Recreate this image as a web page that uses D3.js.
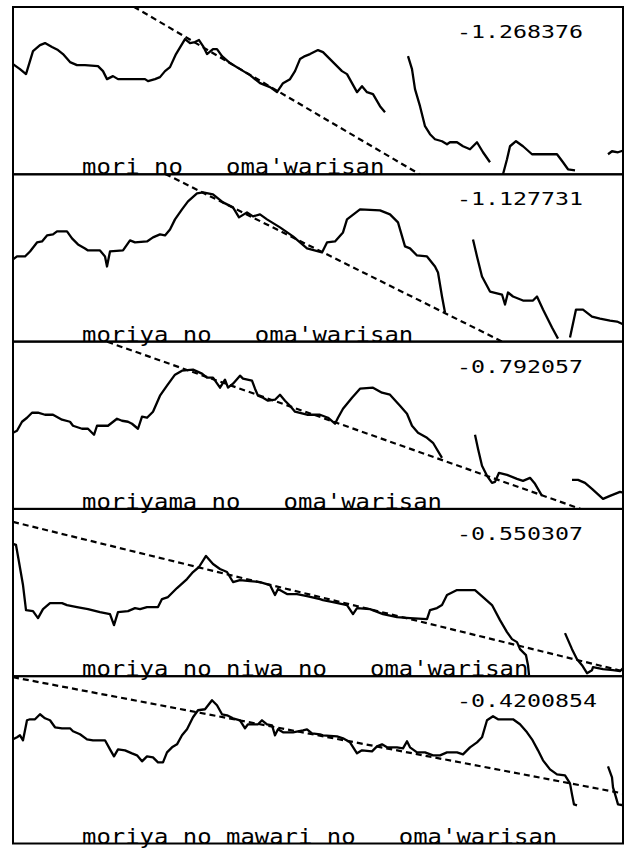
<!DOCTYPE html>
<html>
<head>
<meta charset="utf-8">
<script src="https://cdn.jsdelivr.net/npm/d3@7"></script>
<style>
  body { margin: 0; background: #fff; }
  text { font-family: "DejaVu Sans Mono", "Liberation Mono", monospace; }
</style>
</head>
<body>
<svg class="chart" width="631" height="848"></svg>
<script>
// phrases and the slope printed in each panel
const phrases = [
  "mori no   oma'warisan",
  "moriya no   oma'warisan",
  "moriyama no   oma'warisan",
  "moriya no niwa no   oma'warisan",
  "moriya no mawari no   oma'warisan"
];
const slopes = ["-1.268376", "-1.127731", "-0.792057", "-0.550307", "-0.4200854"];

// dashed regression line, value at frame 0 and at frame 610
const regStart = [238, 243, 200, 154, 166];
const regEnd = [-119, -60, -15, 5, 50];

// F0 contours: voiced stretches of [frame, value]
const contour1 = [
  [[0,110],[7,105],[13,100],[20,123],[27,129],[32,131],[39,127],[45,124],[50,120],[57,112],[64,109],[72,109],[85,108],[90,103],[94,95],[100,98],[105,95],[132,95],[135,93],[142,95],[147,97],[152,103],[157,107],[163,120],[172,135],[177,131],[182,132],[186,134],[190,128],[194,120],[200,125],[204,125],[209,118],[217,111],[227,105],[237,99],[247,91],[257,87],[264,82],[270,91],[277,95],[282,103],[287,115],[292,118],[297,120],[305,124],[310,122],[317,115],[329,103],[334,100],[344,82],[349,88],[354,82],[360,80],[367,68],[372,62]],
  [[395,118],[399,105],[402,85],[407,68],[412,48],[417,40],[422,35],[429,33],[434,30],[437,32],[444,32],[450,28],[457,25],[464,32],[470,22],[477,12]],
  [[490,0],[494,15],[497,28],[503,33],[510,28],[519,20],[530,20],[544,20],[550,12],[555,5],[562,4]],
  [[595,20],[599,23],[605,22],[611,24]]
];
const contour2 = [
  [[0,82],[4,85],[12,85],[17,90],[24,99],[29,100],[34,106],[40,107],[44,110],[54,110],[59,103],[65,97],[72,93],[75,91],[87,91],[92,85],[94,75],[97,90],[110,91],[117,101],[122,99],[134,100],[140,104],[147,107],[152,106],[157,112],[162,122],[169,132],[175,140],[184,148],[190,149],[200,147],[210,139],[220,134],[226,124],[234,129],[240,125],[247,127],[254,122],[267,114],[280,105],[294,93],[309,89],[314,99],[322,100],[330,109],[334,122],[347,132],[367,131],[377,127],[385,119],[392,95],[397,93],[404,86],[414,85],[422,75],[425,69],[429,45],[432,29]],
  [[460,102],[464,85],[469,65],[477,50],[489,47],[492,37],[495,49],[500,45],[510,41],[520,41],[524,45],[530,32],[539,14],[545,3]],
  [[557,4],[563,32],[570,32],[579,25],[587,23],[597,21],[604,20],[611,17]]
];
const contour3 = [
  [[0,76],[4,78],[9,87],[14,91],[19,96],[25,96],[32,94],[40,94],[49,89],[57,87],[60,83],[69,80],[75,80],[81,74],[84,83],[95,83],[104,90],[109,88],[115,87],[119,85],[125,80],[129,92],[134,91],[140,97],[147,113],[154,123],[162,134],[169,138],[180,139],[189,135],[194,131],[200,131],[207,121],[212,129],[215,121],[220,125],[227,133],[230,130],[239,128],[242,120],[245,113],[250,111],[255,108],[262,109],[267,114],[272,108],[277,103],[282,97],[294,94],[307,94],[315,91],[322,85],[325,91],[330,100],[339,111],[347,120],[360,121],[369,116],[377,114],[387,103],[394,95],[399,83],[405,76],[414,71],[420,66],[429,51]],
  [[462,74],[465,60],[469,43],[474,33],[479,26],[482,27],[486,36],[494,34],[504,30],[510,28],[517,31],[522,25],[529,13]],
  [[559,29],[565,29],[572,26],[579,20],[590,10],[597,13],[607,17],[611,16]]
];
const contour4 = [
  [[0,132],[3,131],[6,114],[10,91],[13,66],[20,65],[25,58],[30,67],[37,73],[49,73],[54,71],[64,69],[75,67],[87,64],[97,62],[101,51],[105,64],[115,65],[122,68],[127,67],[134,69],[145,69],[149,77],[155,79],[164,88],[174,97],[180,104],[186,109],[193,120],[200,112],[207,107],[214,104],[220,94],[227,96],[237,95],[247,94],[257,91],[262,81],[265,87],[274,82],[284,82],[294,80],[307,77],[310,76],[320,74],[334,71],[340,62],[344,68],[357,67],[370,62],[384,59],[397,58],[414,57],[417,66],[424,68],[429,71],[434,81],[444,86],[462,86],[470,79],[479,71],[487,56],[494,44],[499,37],[504,34],[507,27],[513,21],[515,11],[516,1]],
  [[552,43],[559,27],[564,17],[569,11],[574,3],[579,6],[580,9],[590,7],[600,6],[607,5],[611,9]]
];
const contour5 = [
  [[0,104],[4,106],[7,108],[10,103],[14,123],[17,124],[22,124],[27,129],[32,125],[37,123],[42,116],[49,115],[57,115],[60,112],[67,109],[74,104],[80,103],[92,103],[97,94],[101,87],[105,94],[112,93],[119,90],[124,88],[129,82],[134,87],[140,86],[145,81],[150,81],[154,91],[159,96],[164,99],[169,108],[174,114],[180,126],[185,133],[192,134],[199,143],[204,138],[209,129],[214,128],[220,125],[227,123],[232,115],[235,119],[245,119],[249,123],[254,119],[259,118],[262,108],[265,114],[270,111],[280,111],[290,113],[294,114],[299,110],[307,109],[310,108],[324,107],[330,105],[337,101],[344,90],[349,93],[359,92],[364,97],[369,99],[374,96],[384,96],[390,95],[394,102],[397,96],[404,91],[412,91],[420,88],[427,88],[434,91],[444,91],[450,89],[457,96],[464,101],[469,106],[474,123],[480,127],[485,124],[500,124],[507,119],[514,111],[519,104],[525,93],[530,83],[537,74],[544,69],[552,68],[557,60],[559,49],[561,39],[564,38]],
  [[595,77],[599,66],[600,56],[603,46],[605,39],[611,38]]
];
const contours = [contour1, contour2, contour3, contour4, contour5];

const svg = d3.select(".chart");
const left = 13, right = 623, top0 = 7, panelH = 167.3;
const labelAdvance = 14.4, slopeAdvance = 14;

const x = d3.scaleLinear().domain([0, 610]).range([left, right]);

contours.forEach((segments, i) => {
  const top = top0 + i * panelH;
  const y = d3.scaleLinear().domain([0, 167]).range([top + panelH, top]);

  const g = svg.append("g").attr("class", "panel");

  g.append("clipPath")
    .attr("id", "clip" + i)
    .append("rect")
    .attr("x", left)
    .attr("y", top)
    .attr("width", right - left)
    .attr("height", panelH);

  const inner = g.append("g").attr("clip-path", "url(#clip" + i + ")");

  const line = d3.line()
    .x((d) => x(d[0]))
    .y((d) => y(d[1]));

  inner.selectAll(".f0")
    .data(segments)
    .enter()
    .append("path")
    .attr("class", "f0")
    .attr("fill", "none")
    .attr("stroke", "#000")
    .attr("stroke-width", 2.3)
    .attr("stroke-linejoin", "round")
    .attr("d", line);

  inner.append("path")
    .attr("class", "reg")
    .attr("fill", "none")
    .attr("stroke", "#000")
    .attr("stroke-width", 2.2)
    .attr("stroke-dasharray", "6,4")
    .attr("d", line([[0, regStart[i]], [610, regEnd[i]]]));

  g.append("rect")
    .attr("x", left)
    .attr("y", top)
    .attr("width", right - left)
    .attr("height", panelH)
    .attr("fill", "none")
    .attr("stroke", "#000")
    .attr("stroke-width", 2);

  g.append("text")
    .attr("x", left + 444)
    .attr("y", top + 31)
    .attr("font-size", 18)
    .attr("textLength", slopes[i].length * slopeAdvance)
    .attr("lengthAdjust", "spacingAndGlyphs")
    .text(slopes[i]);

  g.append("text")
    .attr("x", 82)
    .attr("y", top + panelH)
    .attr("font-size", 22)
    .attr("textLength", phrases[i].length * labelAdvance)
    .attr("lengthAdjust", "spacingAndGlyphs")
    .text(phrases[i].replace(/ /g, "\u00A0"));
});
</script>
</body>
</html>
